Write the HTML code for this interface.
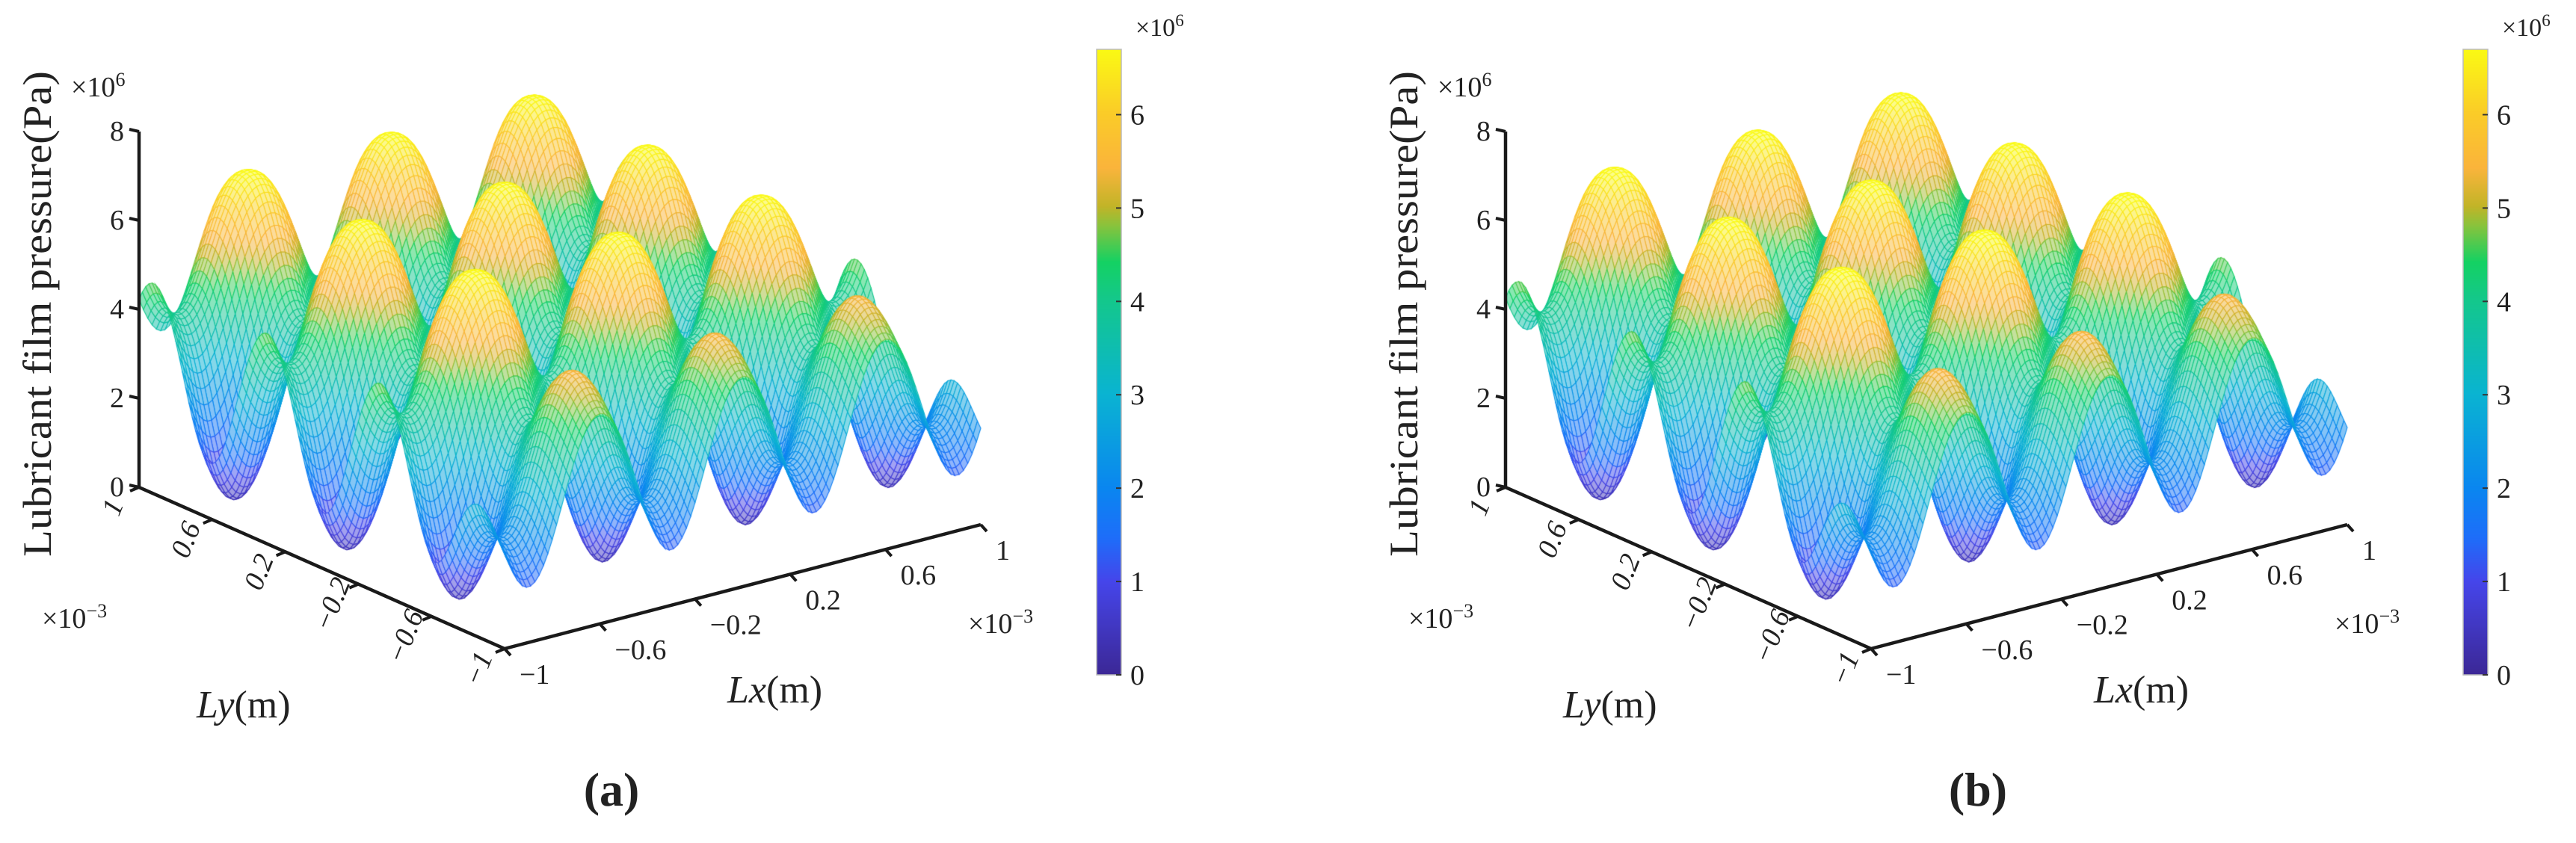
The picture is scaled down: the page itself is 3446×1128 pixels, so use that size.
<!DOCTYPE html>
<html><head><meta charset="utf-8">
<style>
html,body{margin:0;padding:0;background:#fff;}
#wrap{position:relative;width:3446px;height:1128px;overflow:hidden;background:#fff;}
canvas,svg{position:absolute;left:0;top:0;}
text{font-family:"Liberation Serif",serif;fill:#222;}
</style></head>
<body>
<div id="wrap">
<canvas id="cv" width="3446" height="1128"></canvas>
<svg id="sv" width="3446" height="1128"></svg>
</div>
<script>
// ---- data ----
const panels = ["(a)", "(b)"];
const panelOffsets = [0, 1828];
const zTicks = [0, 2, 4, 6, 8];
const xyTicks = [-1, -0.6, -0.2, 0.2, 0.6, 1];
const xyTickLabels = ["\u22121", "\u22120.6", "\u22120.2", "0.2", "0.6", "1"];
const cbTicks = [0, 1, 2, 3, 4, 5, 6];
const minPressure = [0.3, 0.3];
const spanPressure = [6.4, 6.45];
const shapePower = [1.2, 1.2];
const periodU = [0.6, 0.6];
const periodV = [0.62, 0.62];
const phaseV = [0.3, 0.3];
const lowRidgeV = [-0.63, -0.63];
const frontRowLevel = [-0.5, -0.5];
const cmin = 0, cmax = 6.7;
const cmapPos = [0, 0.15, 0.22, 0.3, 0.45, 0.6, 0.66, 0.72, 0.75, 0.81, 0.9, 1];
const cmapCol = [[60,40,150],[70,70,235],[30,110,250],[10,135,240],[10,180,210],[20,200,140],[20,210,100],[140,195,60],[195,180,40],[250,180,60],[250,205,40],[250,250,20]];

function cmap(t){
  t=Math.max(0,Math.min(1,t));
  for(let i=1;i<cmapPos.length;i++){
    if(t<=cmapPos[i]){
      const f=(t-cmapPos[i-1])/(cmapPos[i]-cmapPos[i-1]);
      const a=cmapCol[i-1],b=cmapCol[i];
      return [a[0]+(b[0]-a[0])*f,a[1]+(b[1]-a[1])*f,a[2]+(b[2]-a[2])*f];
    }
  }
  return cmapCol[cmapCol.length-1];
}
function pressure(p,u,v){
  const cu=Math.cos(2*Math.PI*u/periodU[p]);
  let cv=Math.cos(2*Math.PI*(v-phaseV[p])/periodV[p]);
  if(v<lowRidgeV[p]){
    const d=Math.min(1,(lowRidgeV[p]-v)/(1+lowRidgeV[p]));
    cv=cv*(1-d)+frontRowLevel[p]*d;
  }
  const t=((cu+cv)/2+1)/2;
  return minPressure[p]+spanPressure[p]*(1-Math.pow(1-t,shapePower[p]));
}
const C0=[749,677], EX=[318.5,-83], EY=[-244.5,-108], EZ=59.5;
function proj(off,u,v,z){return [C0[0]+off+u*EX[0]+v*EY[0], C0[1]+u*EX[1]+v*EY[1]-z*EZ];}

const cv=document.getElementById('cv'), ctx=cv.getContext('2d');
const N=110;
panels.forEach((lab,p)=>{
  const off=panelOffsets[p];
  const quads=[];
  for(let i=0;i<N;i++)for(let j=0;j<N;j++){
    const u0=-1+2*i/N,u1=-1+2*(i+1)/N,v0=-1+2*j/N,v1=-1+2*(j+1)/N;
    const uc=(u0+u1)/2,vc=(v0+v1)/2;
    quads.push([83*uc+108*vc,u0,u1,v0,v1]);
  }
  quads.sort((a,b)=>b[0]-a[0]);
  ctx.lineWidth=1.1;
  for(const q of quads){
    const [,u0,u1,v0,v1]=q;
    const pts=[[u0,v0],[u1,v0],[u1,v1],[u0,v1]].map(([u,v])=>proj(off,u,v,pressure(p,u,v)));
    const zc=pressure(p,(u0+u1)/2,(v0+v1)/2);
    const c=cmap((zc-cmin)/(cmax-cmin));
    ctx.beginPath();ctx.moveTo(pts[0][0],pts[0][1]);
    for(let k=1;k<4;k++)ctx.lineTo(pts[k][0],pts[k][1]);
    ctx.closePath();
    ctx.fillStyle=`rgb(${(c[0]*0.5+255*0.5)|0},${(c[1]*0.5+255*0.5)|0},${(c[2]*0.5+255*0.5)|0})`;
    ctx.fill();
    ctx.strokeStyle=`rgb(${c[0]|0},${c[1]|0},${c[2]|0})`;
    ctx.stroke();
  }
  const cbx=1467+off, cbw=33, cbTop=66, cbBot=903;
  for(let y=cbTop;y<cbBot;y++){
    const val=(cbBot-y)/(cbBot-cbTop)*cmax;
    const c=cmap(val/cmax);
    ctx.fillStyle=`rgb(${c[0]|0},${c[1]|0},${c[2]|0})`;
    ctx.fillRect(cbx,y,cbw,1.2);
  }
});

const NS="http://www.w3.org/2000/svg", sv=document.getElementById('sv');
function el(tag,attrs,parent){const e=document.createElementNS(NS,tag);for(const k in attrs)e.setAttribute(k,attrs[k]);(parent||sv).appendChild(e);return e;}
panels.forEach((lab,p)=>{
  const off=panelOffsets[p];
  const g=el('g',{});
  
  
  const A=proj(off,-1,1,0),B=proj(off,-1,-1,0),D=proj(off,1,-1,0),Top=proj(off,-1,1,8);
  const ax=el('polyline',{points:`${Top[0]},${Top[1]} ${A[0]},${A[1]} ${B[0]},${B[1]} ${D[0]},${D[1]}`,fill:'none',stroke:'#1a1a1a','stroke-width':4.5,'stroke-linejoin':'miter'},g);
  
  
  zTicks.forEach(z=>{
    const P=proj(off,-1,1,z);
    const t=el('line',{x1:P[0],y1:P[1],x2:P[0]-13,y2:P[1]-3,stroke:'#1a1a1a','stroke-width':4},g);
    
    
    const tx=el('text',{x:P[0]-20,y:P[1]+12,'text-anchor':'end','font-size':38},g);
    tx.textContent=String(z);
    
    
  });
  xyTicks.forEach((v,i)=>{
    const P=proj(off,-1,v,0);
    const t=el('line',{x1:P[0],y1:P[1],x2:P[0]-12,y2:P[1]+5,stroke:'#1a1a1a','stroke-width':4},g);
    
    
    const cx=P[0]-35,cy=P[1]+27;
    const tx=el('text',{x:cx,y:cy+12,'text-anchor':'middle','font-size':38,'font-style':'italic',transform:`rotate(-68 ${cx} ${cy})`},g);
    tx.textContent=xyTickLabels[i];
    
    
  });
  xyTicks.forEach((u,i)=>{
    const P=proj(off,u,-1,0);
    const t=el('line',{x1:P[0],y1:P[1],x2:P[0]+8,y2:P[1]+9,stroke:'#1a1a1a','stroke-width':4},g);
    
    
    const tx=el('text',{x:P[0]+20,y:P[1]+47,'text-anchor':'start','font-size':38},g);
    tx.textContent=xyTickLabels[i];
    
    
  });
  const zt=el('text',{x:0,y:0,'text-anchor':'middle','font-size':54,transform:`translate(${68+off},420) rotate(-90)`,textLength:650,lengthAdjust:'spacingAndGlyphs'},g);
  zt.textContent='Lubricant  film  pressure(Pa)';
  
  
  const zs=el('text',{x:95+off,y:129,'font-size':38},g);
  zs.innerHTML='\u00d710<tspan dy="-14" font-size="26">6</tspan>';
  
  
  const ys=el('text',{x:56+off,y:840,'font-size':38},g);
  ys.innerHTML='\u00d710<tspan dy="-14" font-size="26">\u22123</tspan>';
  
  
  const xs=el('text',{x:1295+off,y:847,'font-size':38},g);
  xs.innerHTML='\u00d710<tspan dy="-14" font-size="26">\u22123</tspan>';
  
  
  const yl=el('text',{x:263+off,y:960,'font-size':52},g);
  yl.innerHTML='<tspan font-style="italic">Ly</tspan>(m)';
  
  
  const xl=el('text',{x:973+off,y:940,'font-size':52},g);
  xl.innerHTML='<tspan font-style="italic">Lx</tspan>(m)';
  
  
  const pl=el('text',{x:818+off,y:1078,'text-anchor':'middle','font-size':64,'font-weight':'bold'},g);
  pl.textContent=lab;
  
  
  const cbx=1467+off, cbw=33, cbTop=66, cbBot=903;
  const cb=el('rect',{x:cbx,y:cbTop,width:cbw,height:cbBot-cbTop,fill:'none',stroke:'#bbb','stroke-width':1.5},g);
  
  
  cbTicks.forEach(t=>{
    const y=cbBot-(t/cmax)*(cbBot-cbTop);
    const tk=el('line',{x1:cbx+cbw-7,y1:y,x2:cbx+cbw,y2:y,stroke:'#333','stroke-width':2},g);
    
    
    const tx=el('text',{x:cbx+cbw+12,y:y+13,'font-size':38},g);
    tx.textContent=String(t);
    
    
  });
  const ce=el('text',{x:cbx+52,y:48,'font-size':34},g);
  ce.innerHTML='\u00d710<tspan dy="-13" font-size="23">6</tspan>';
  
  
});
</script>
</body></html>
